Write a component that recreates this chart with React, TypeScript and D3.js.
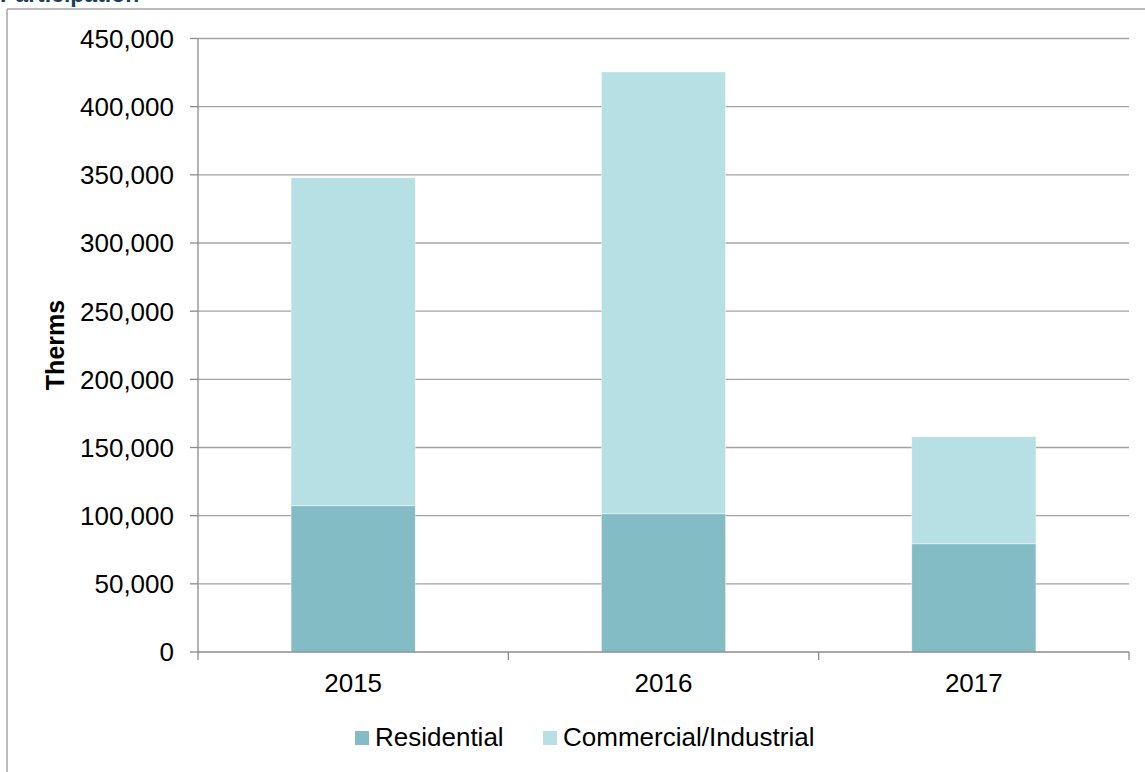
import React from "react";
import * as d3 from "d3";

const years = ["2015", "2016", "2017"];
const residential = [107300, 101400, 79400];
const commercial = [240600, 324100, 78500];
const seriesNames = ["Residential", "Commercial/Industrial"];
const yTicks = [0, 50000, 100000, 150000, 200000, 250000, 300000, 350000, 400000, 450000];

const W = 1145;
const H = 772;
const colors = ["#83BCC4", "#B7E0E5"];

export default function App() {
  const left = 198, right = 1129, top = 38.5, bottom = 652;
  const x = d3.scaleBand<string>().domain(years).range([left, right]).paddingInner(0.6).paddingOuter(0.3);
  const band = d3.scaleBand<string>().domain(years).range([left, right]);
  const y = d3.scaleLinear().domain([0, 450000]).range([bottom, top]);
  const fmt = d3.format(",");
  const stack = years.map((yr, i) => ({ yr, r: residential[i], c: commercial[i] }));
  const font = "'Liberation Sans', Arial, sans-serif";

  return (
    <svg width={W} height={H} style={{ position: "absolute", left: 0, top: 0, display: "block", background: "#fff" }} fontFamily={font}>
      <text x={0} y={2} fontSize={23} fontWeight="bold" fill="#17405E">Participation</text>
      <line x1={7} x2={7} y1={9} y2={H} stroke="#a6a6a6" strokeWidth={1.5} />
      <line x1={7} x2={W} y1={9} y2={9} stroke="#a6a6a6" strokeWidth={1.5} />
      {yTicks.slice(1).map((t) => (
        <line key={t} x1={left} x2={right} y1={y(t)} y2={y(t)} stroke="#a3a3a3" strokeWidth={1.3} />
      ))}
      {stack.map((d) => (
        <g key={d.yr}>
          <rect x={x(d.yr)} y={y(d.r)} width={x.bandwidth()} height={y(0) - y(d.r)} fill={colors[0]} stroke="#ffffff" strokeOpacity={0.5} strokeWidth={0.8} />
          <rect x={x(d.yr)} y={y(d.r + d.c)} width={x.bandwidth()} height={y(d.r) - y(d.r + d.c)} fill={colors[1]} stroke="#ffffff" strokeOpacity={0.5} strokeWidth={0.8} />
        </g>
      ))}
      <line x1={left} x2={left} y1={top} y2={bottom} stroke="#8c8c8c" strokeWidth={1.3} />
      <line x1={left} x2={right} y1={bottom} y2={bottom} stroke="#8c8c8c" strokeWidth={1.3} />
      {yTicks.map((t) => (
        <g key={t}>
          <line x1={left - 8} x2={left} y1={y(t)} y2={y(t)} stroke="#8c8c8c" strokeWidth={1.3} />
          <text x={174} y={y(t)} dy="0.36em" textAnchor="end" fontSize={26} fill="#000">{fmt(t)}</text>
        </g>
      ))}
      {years.map((yr) => (
        <line key={yr} x1={band(yr)} x2={band(yr)} y1={bottom} y2={bottom + 8} stroke="#8c8c8c" strokeWidth={1.3} />
      ))}
      <line x1={right} x2={right} y1={bottom} y2={bottom + 8} stroke="#8c8c8c" strokeWidth={1.3} />
      {years.map((yr) => (
        <text key={yr} x={(band(yr) as number) + band.bandwidth() / 2} y={692} textAnchor="middle" fontSize={26} fill="#000">{yr}</text>
      ))}
      <text transform="translate(64,345) rotate(-90)" textAnchor="middle" fontSize={25} fontWeight="bold" fill="#000">Therms</text>
      <rect x={355} y={731} width={14} height={14} fill={colors[0]} />
      <text x={375} y={746} fontSize={26} fill="#000">{seriesNames[0]}</text>
      <rect x={543} y={731} width={14} height={14} fill={colors[1]} />
      <text x={563} y={746} fontSize={26} fill="#000">{seriesNames[1]}</text>
    </svg>
  );
}
